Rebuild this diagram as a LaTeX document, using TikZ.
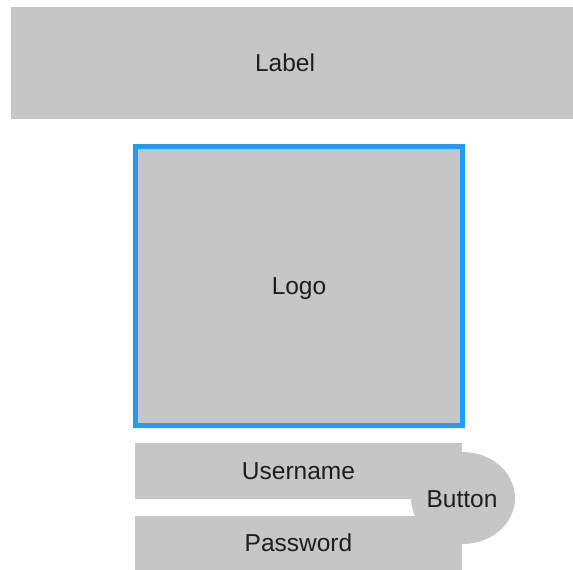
\documentclass[tikz,border=0pt]{standalone}
\usepackage{fontspec}
\setmainfont{Liberation Sans}
\usetikzlibrary{shapes.geometric}

\definecolor{boxgray}{RGB}{198,198,198}
\definecolor{selblue}{RGB}{33,155,243}
\definecolor{txtgray}{RGB}{30,30,30}

\begin{document}
\begin{tikzpicture}[x=1pt,y=-1pt,
    caption/.style={text=txtgray,font=\fontsize{24.5}{29}\selectfont,
        text height=17.5pt,text depth=0pt},
    widget/.style={caption,fill=boxgray,inner sep=0pt},
    selected/.style={widget,draw=selblue,line width=4.5pt}]
    % page frame
    \useasboundingbox (0,0) rectangle (573,570);

    % title bar across the top
    \fill[boxgray] (11,7) rectangle (573,119);
    \node[caption] (label) at (285,63) {Label};

    % logo placeholder
    \node[selected,minimum width=327pt,minimum height=279pt] (logo) at (299,286) {Logo};

    % input fields
    \node[widget,minimum width=327pt,minimum height=56pt] (user) at (298.5,471) {Username};
    \node[widget,minimum width=327pt,minimum height=54pt] (pass) at (298.5,543) {Password};

    % round button between the fields
    \node[widget,ellipse,minimum width=104pt,minimum height=92pt] (button) at (463,498) {};
    \node[caption] (btntext) at (462,499) {Button};

\end{tikzpicture}
\end{document}
